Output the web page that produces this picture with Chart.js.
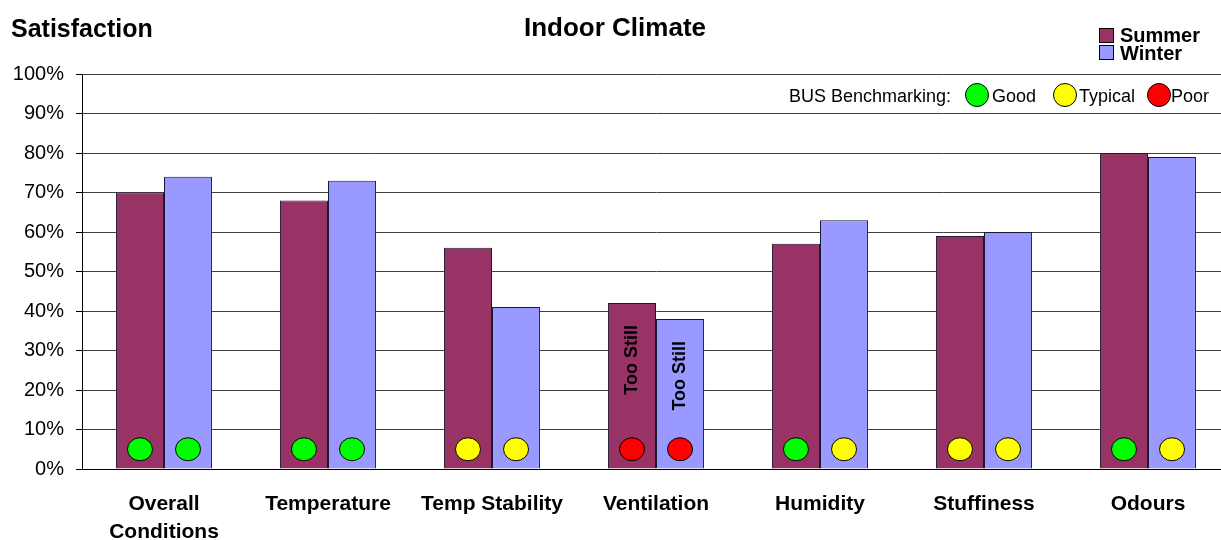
<!DOCTYPE html>
<html>
<head>
<meta charset="utf-8">
<script src="https://cdn.jsdelivr.net/npm/chart.js@4/dist/chart.umd.min.js"></script>
<style>
  html, body { margin: 0; background: #fff; font-family: "Liberation Sans", Arial, sans-serif; overflow: hidden; }
  #wrap { position: relative; width: 1221px; height: 540px; overflow: hidden; }
  canvas { position: absolute; left: 0; top: 0; }
  .txt { position: absolute; color: #000; white-space: nowrap; line-height: 1; }
  .bold { font-weight: bold; }
  .box { position: absolute; width: 13px; height: 13px; border: 1px solid #000; }
  .dot { position: absolute; width: 22px; height: 22px; border: 1px solid #000; border-radius: 50%; }
</style>
</head>
<body>
<div id="wrap">
  <canvas id="chartClimate" width="1230" height="540"></canvas>
  <div class="txt bold" style="left:11px; top:16px; font-size:25px;">Satisfaction</div>
  <div class="txt bold" style="left:524px; top:14px; font-size:26px;">Indoor Climate</div>
  <div class="box" style="left:1099px; top:28px; background:#993366;"></div>
  <div class="txt bold" style="left:1120px; top:25px; font-size:20px;">Summer</div>
  <div class="box" style="left:1099px; top:45px; background:#9999ff;"></div>
  <div class="txt bold" style="left:1120px; top:43px; font-size:20px;">Winter</div>
  <div class="txt" style="left:789px; top:87px; font-size:18px;">BUS Benchmarking:</div>
  <div class="dot" style="left:965px; top:83px; background:#00ff00;"></div>
  <div class="txt" style="left:992px; top:87px; font-size:18px;">Good</div>
  <div class="dot" style="left:1053px; top:83px; background:#ffff00;"></div>
  <div class="txt" style="left:1079px; top:87px; font-size:18px;">Typical</div>
  <div class="dot" style="left:1147px; top:83px; background:#ff0000;"></div>
  <div class="txt" style="left:1171px; top:87px; font-size:18px;">Poor</div>
</div>
<script>
// ---- datos ----
const categories = [["Overall", "Conditions"], "Temperature", "Temp Stability", "Ventilation", "Humidity", "Stuffiness", "Odours"];
const summerValues = [70, 68, 56, 42, 57, 59, 80];
const winterValues = [74, 73, 41, 38, 63, 60, 79];
const summerBench = ["good", "good", "typical", "poor", "good", "typical", "good"];
const winterBench = ["good", "good", "typical", "poor", "typical", "typical", "typical"];
const summerNotes = ["", "", "", "Too Still", "", "", ""];
const winterNotes = ["", "", "", "Too Still", "", "", ""];
const yTicks = [0, 10, 20, 30, 40, 50, 60, 70, 80, 90, 100];
const benchLevel = 5;

const benchColors = { good: "#00ff00", typical: "#ffff00", poor: "#ff0000" };

// circles + vertical notes on top of the bars
const benchPlugin = {
    id: "benchPlugin",
    afterDatasetsDraw(chart) {
        const ctx = chart.ctx;
        const y = chart.scales.y;
        chart.data.datasets.forEach((ds, i) => {
            const meta = chart.getDatasetMeta(i);
            meta.data.forEach((bar, j) => {
                const rating = ds.bench[j];
                if (rating) {
                    ctx.save();
                    ctx.beginPath();
                    ctx.ellipse(bar.x, y.getPixelForValue(benchLevel), 12.5, 11.5, 0, 0, Math.PI * 2);
                    ctx.fillStyle = benchColors[rating];
                    ctx.fill();
                    ctx.lineWidth = 1;
                    ctx.strokeStyle = "#000";
                    ctx.stroke();
                    ctx.restore();
                }
                const note = ds.notes[j];
                if (note) {
                    ctx.save();
                    ctx.translate(bar.x, bar.y + 22);
                    ctx.rotate(-Math.PI / 2);
                    ctx.font = "bold 18px 'Liberation Sans', Arial, sans-serif";
                    ctx.fillStyle = "#000";
                    ctx.textAlign = "right";
                    ctx.textBaseline = "middle";
                    ctx.fillText(note, 0, 0);
                    ctx.restore();
                }
            });
        });
    }
};

window.addEventListener("DOMContentLoaded", () => {
    const ctx = document.getElementById("chartClimate").getContext("2d");

    new Chart(ctx, {
        type: "bar",
        data: {
            labels: categories,
            datasets: [
                {
                    label: "Summer",
                    data: summerValues,
                    bench: summerBench,
                    notes: summerNotes,
                    backgroundColor: "#993366",
                    borderColor: "#1a1a33",
                    borderWidth: 1,
                    barPercentage: 1,
                    categoryPercentage: 0.586
                },
                {
                    label: "Winter",
                    data: winterValues,
                    bench: winterBench,
                    notes: winterNotes,
                    backgroundColor: "#9999ff",
                    borderColor: "#1a1a33",
                    borderWidth: 1,
                    barPercentage: 1,
                    categoryPercentage: 0.586
                }
            ]
        },
        options: {
            responsive: false,
            animation: false,
            layout: { padding: { top: 74, right: 0, left: 0, bottom: 0 } },
            plugins: {
                legend: { display: false },
                tooltip: { enabled: false }
            },
            scales: {
                x: {
                    grid: { display: false, drawTicks: false },
                    border: { display: true, color: "#000", width: 1 },
                    ticks: {
                        color: "#000",
                        padding: 22,
                        font: { family: "'Liberation Sans', Arial, sans-serif", size: 21, weight: "bold", lineHeight: 1.3 },
                        maxRotation: 0,
                        autoSkip: false
                    },
                    afterFit: (scale) => { scale.height = 71; }
                },
                y: {
                    min: 0,
                    max: 100,
                    afterBuildTicks: (scale) => { scale.ticks = yTicks.map(v => ({ value: v })); },
                    grid: { color: "#404040", lineWidth: 1, tickLength: 6, tickColor: "#000" },
                    border: { display: true, color: "#000", width: 1 },
                    ticks: {
                        color: "#000",
                        padding: 12,
                        font: { family: "'Liberation Sans', Arial, sans-serif", size: 20 },
                        callback: (val) => val + "%"
                    },
                    afterFit: (scale) => { scale.width = 82; }
                }
            }
        },
        plugins: [benchPlugin]
    });
});
</script>
</body>
</html>
